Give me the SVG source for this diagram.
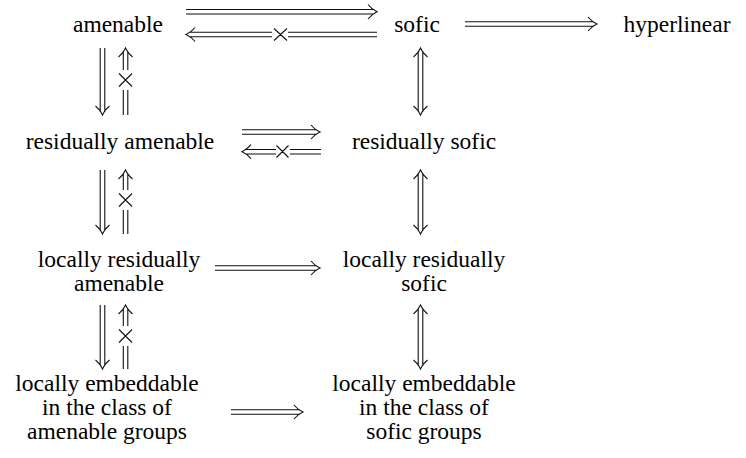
<svg xmlns="http://www.w3.org/2000/svg" width="746" height="458" viewBox="0 0 746 458">
<style>
text{font-family:"Liberation Serif","Times New Roman",serif;font-size:23.5px;fill:#000;text-anchor:middle}
.l{fill:none;stroke:#111;stroke-width:1.1}
</style>
<rect width="746" height="458" fill="#fff"/>
<g id="n-amenable"><text x="118" y="32">amenable</text></g>
<g id="n-sofic"><text x="417" y="32">sofic</text></g>
<g id="n-hyperlinear"><text x="677" y="32">hyperlinear</text></g>
<g id="n-ra"><text x="120" y="149">residually amenable</text></g>
<g id="n-rs"><text x="424" y="149">residually sofic</text></g>
<g id="n-lra"><text x="119" y="267">locally residually</text><text x="119" y="291">amenable</text></g>
<g id="n-lrs"><text x="424" y="267">locally residually</text><text x="424" y="291">sofic</text></g>
<g id="n-lea"><text x="107" y="391">locally embeddable</text><text x="107" y="415">in the class of</text><text x="107" y="439">amenable groups</text></g>
<g id="n-les"><text x="424" y="391">locally embeddable</text><text x="424" y="415">in the class of</text><text x="424" y="439">sofic groups</text></g>
<g id="connectors" class="l">
<!-- amenable => sofic -->
<path d="M186 9.5H374M186 14H374M368 4.5Q372 9.5 377 11.7Q372 14 368 19"/>
<!-- sofic =/=> amenable -->
<path d="M189 32.3H272M189 36.8H272M195 27.5Q191 32.5 186 34.5Q191 36.5 195 41.5M288 32.3H377M288 36.8H377M274 28.5L287 40.5M287 28.5L274 40.5"/>
<!-- sofic => hyperlinear -->
<path d="M465 21.8H594M465 26.3H594M588 17Q592 22 597 24Q592 26 588 31"/>
<!-- amenable => residually amenable (down) -->
<path d="M100.2 48V112M104.8 48V112M95.5 106Q100.5 110 102.5 115Q104.5 110 109.5 106"/>
<!-- residually amenable =/=> amenable (up) -->
<path d="M123.3 51V70M127.8 51V70M118.5 57Q123.5 53 125.5 48Q127.5 53 132.5 57M123.3 90V115M127.8 90V115M119 73.5L132 86.5M132 73.5L119 86.5"/>
<!-- sofic <=> residually sofic -->
<path d="M418.2 51V112M422.8 51V112M413.5 57Q418.5 53 420.5 48Q422.5 53 427.5 57M413.5 106Q418.5 110 420.5 115Q422.5 110 427.5 106"/>
<!-- residually amenable => residually sofic -->
<path d="M242 129.8H317M242 134.3H317M311 125Q315 130 320 132Q315 134 311 139"/>
<!-- residually sofic =/=> residually amenable -->
<path d="M245 149.5H276M245 154H276M251 144.7Q247 149.7 242 151.7Q247 153.7 251 158.7M290 149.5H321M290 154H321M276.5 145.5L288.5 157.5M288.5 145.5L276.5 157.5"/>
<!-- ra => lra (down) -->
<path d="M100.2 170V231M104.8 170V231M95.5 225Q100.5 229 102.5 234Q104.5 229 109.5 225"/>
<!-- lra =/=> ra (up) -->
<path d="M123.3 173V190M127.8 173V190M118.5 179Q123.5 175 125.5 170Q127.5 175 132.5 179M123.3 210V234M127.8 210V234M119 193.5L132 206.5M132 193.5L119 206.5"/>
<!-- rs <=> lrs -->
<path d="M418.2 173V231M422.8 173V231M413.5 179Q418.5 175 420.5 170Q422.5 175 427.5 179M413.5 225Q418.5 229 420.5 234Q422.5 229 427.5 225"/>
<!-- lra => lrs -->
<path d="M215 265.8H317M215 270.3H317M311 261Q315 266 320 268Q315 270 311 275"/>
<!-- lra => lea (down) -->
<path d="M100.2 305V366M104.8 305V366M95.5 360Q100.5 364 102.5 369Q104.5 364 109.5 360"/>
<!-- lea =/=> lra (up) -->
<path d="M123.3 308V326M127.8 308V326M118.5 314Q123.5 310 125.5 305Q127.5 310 132.5 314M123.3 346V369M127.8 346V369M119 329.5L132 342.5M132 329.5L119 342.5"/>
<!-- lrs <=> les -->
<path d="M418.2 308V366M422.8 308V366M413.5 314Q418.5 310 420.5 305Q422.5 310 427.5 314M413.5 360Q418.5 364 420.5 369Q422.5 364 427.5 360"/>
<!-- lea => les -->
<path d="M231 409.8H300M231 414.3H300M294 405Q298 410 303 412Q298 414 294 419"/>
</g>
</svg>
